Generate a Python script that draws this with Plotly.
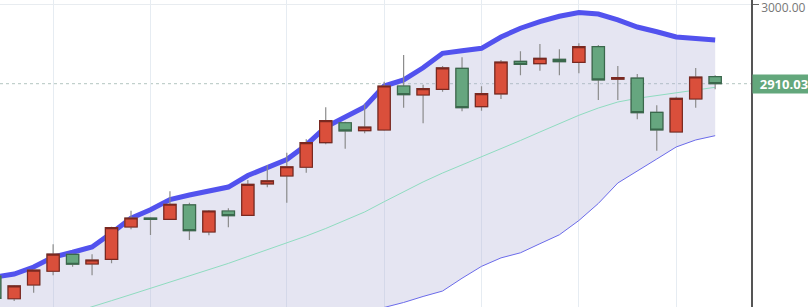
import plotly.graph_objects as go

# ---- data ----
idx = list(range(38))
open_ = [2690.2, 2664.2, 2679.9, 2695.6, 2715.0, 2703.9, 2709.3, 2746.2, 2756.5, 2755.0,
         2771.4, 2740.5, 2764.5, 2759.6, 2795.4, 2804.5, 2814.5, 2842.6, 2865.4, 2856.3,
         2857.1, 2907.4, 2897.1, 2903.6, 2927.6, 2883.7, 2898.3, 2935.6, 2932.9, 2937.9,
         2934.5, 2952.3, 2915.1, 2916.5, 2877.3, 2854.8, 2892.5, 2918.0]
high_ = [2692.5, 2679.9, 2697.6, 2726.4, 2715.9, 2715.0, 2746.6, 2764.8, 2757.3, 2787.0,
         2774.0, 2765.6, 2767.6, 2799.9, 2817.1, 2831.1, 2846.5, 2883.1, 2866.6, 2886.5,
         2912.3, 2942.8, 2908.9, 2930.3, 2940.2, 2907.1, 2937.1, 2947.1, 2955.4, 2949.4,
         2956.2, 2954.3, 2930.3, 2921.1, 2885.3, 2895.2, 2928.0, 2919.6]
low_ = [2660.5, 2661.6, 2671.1, 2691.0, 2700.8, 2691.0, 2704.7, 2743.6, 2737.1, 2754.2,
        2731.3, 2736.7, 2745.9, 2759.4, 2791.6, 2774.0, 2808.3, 2840.8, 2835.7, 2853.3,
        2856.3, 2882.6, 2864.8, 2900.9, 2878.5, 2879.2, 2892.5, 2919.6, 2924.9, 2919.6,
        2921.9, 2891.4, 2891.4, 2869.3, 2833.4, 2854.2, 2882.6, 2903.6]
close_ = [2664.7, 2678.8, 2697.0, 2715.3, 2703.6, 2708.5, 2745.4, 2756.5, 2755.0, 2772.2,
          2742.0, 2764.5, 2759.1, 2795.0, 2799.1, 2815.1, 2842.6, 2867.7, 2856.0, 2860.5,
          2907.4, 2897.5, 2904.3, 2928.0, 2882.6, 2898.6, 2934.8, 2932.2, 2939.1, 2935.2,
          2952.3, 2914.3, 2916.9, 2876.9, 2857.1, 2893.3, 2917.7, 2910.03]
upper = [2689.0, 2692.5, 2700.5, 2711.9, 2717.3, 2723.3, 2739.4, 2756.2, 2766.0, 2777.6,
         2782.8, 2786.8, 2791.9, 2805.1, 2814.8, 2823.4, 2840.0, 2860.5, 2872.0, 2883.4,
         2907.4, 2914.3, 2928.2, 2944.8, 2947.8, 2950.5, 2963.4, 2973.4, 2981.1, 2987.1,
         2991.4, 2989.7, 2982.9, 2974.8, 2969.4, 2963.4, 2961.7, 2960.0]
middle = [2620.5, 2627.3, 2634.2, 2641.0, 2648.2, 2655.3, 2662.0, 2669.0, 2676.1, 2683.3,
          2690.2, 2697.1, 2704.6, 2712.5, 2720.3, 2727.3, 2735.9, 2744.5, 2753.6, 2763.4,
          2775.1, 2786.6, 2797.7, 2807.9, 2817.1, 2826.2, 2835.4, 2845.1, 2854.8, 2864.5,
          2873.9, 2882.2, 2889.1, 2893.3, 2896.3, 2899.2, 2902.5, 2905.9]
lower = [2551.9, 2562.2, 2567.9, 2570.2, 2579.3, 2587.3, 2585.0, 2581.9, 2586.2, 2589.0,
         2597.6, 2607.3, 2617.3, 2619.9, 2625.7, 2631.3, 2631.9, 2628.5, 2635.3, 2643.3,
         2654.2, 2659.9, 2666.8, 2673.0, 2687.6, 2701.2, 2710.9, 2716.7, 2727.1, 2737.3,
         2753.6, 2773.1, 2796.5, 2809.7, 2823.9, 2837.7, 2845.7, 2850.6]
last_price = 2910.03
last_label = "2910.030"
grid_idx = [3, 8, 15, 20, 25, 30, 35]
y_ticks = [3000]
y_tick_text = ["3000.00"]

body_hi = [max(o, c) for o, c in zip(open_, close_)]
body_lo = [min(o, c) for o, c in zip(open_, close_)]

X_RANGE = [0.272, 38.84]
Y_RANGE = [2654.75, 3005.7]

RED_FILL = "#da4f3b"
RED_LINE = "#7a2820"
GREEN_FILL = "#66a67f"
GREEN_LINE = "#3a684c"

fig = go.Figure()
fig.add_trace(go.Scatter(x=idx, y=lower, mode="lines",
                         line=dict(color="#6b6bea", width=1), hoverinfo="skip"))
fig.add_trace(go.Scatter(x=idx, y=upper, mode="lines", fill="tonexty",
                         fillcolor="rgba(175,175,215,0.32)",
                         line=dict(color="#5252ee", width=5), hoverinfo="skip"))
fig.add_trace(go.Scatter(x=idx, y=middle, mode="lines",
                         line=dict(color="#8fdcc0", width=1), hoverinfo="skip"))
# wicks (on an overlaid subplot so candles sit above the bands)
fig.add_trace(go.Candlestick(
    x=idx, open=open_, high=high_, low=low_, close=close_, xaxis="x2", yaxis="y2",
    increasing=dict(line=dict(color="#8c8c8c", width=1.2), fillcolor="rgba(0,0,0,0)"),
    decreasing=dict(line=dict(color="#8c8c8c", width=1.2), fillcolor="rgba(0,0,0,0)"),
    whiskerwidth=0))
# bodies
fig.add_trace(go.Candlestick(
    x=idx, open=open_, high=body_hi, low=body_lo, close=close_, xaxis="x2", yaxis="y2",
    increasing=dict(line=dict(color=RED_LINE, width=1.2), fillcolor=RED_FILL),
    decreasing=dict(line=dict(color=GREEN_LINE, width=1.2), fillcolor=GREEN_FILL),
    whiskerwidth=0))

fig.add_shape(type="line", xref="paper", x0=0, x1=1, yref="y", y0=last_price, y1=last_price,
              line=dict(color="#b3c6c0", width=1, dash="dot"), layer="below")
fig.add_annotation(x=1, xref="paper", xanchor="left", xshift=1, y=last_price, yref="y",
                   text="<b>&nbsp;&nbsp;" + last_label + "</b>", showarrow=False,
                   bgcolor="#63a77c", font=dict(color="white", size=13, family="Open Sans"),
                   borderpad=0)

fig.update_layout(
    width=808, height=307, margin=dict(l=0, r=57, t=0, b=0, autoexpand=False),
    showlegend=False, plot_bgcolor="white", paper_bgcolor="white",
    boxgap=0.37, boxgroupgap=0,
    xaxis=dict(range=X_RANGE, tickvals=grid_idx, showticklabels=False, automargin=False,
               showgrid=True, gridcolor="#e6ecf2", gridwidth=1, zeroline=False,
               showline=False, ticks="", rangeslider=dict(visible=False)),
    xaxis2=dict(range=X_RANGE, overlaying="x", visible=False, showgrid=False,
                automargin=False, rangeslider=dict(visible=False)),
    yaxis=dict(side="right", range=Y_RANGE, tickvals=y_ticks, ticktext=y_tick_text,
               automargin=False,
               showgrid=True, gridcolor="#e8ecf0", zeroline=False, showline=True,
               linecolor="#555", linewidth=1.5, ticks="outside", ticklen=6, tickcolor="#666",
               ticklabeloverflow="allow", ticklabelshift=3,
               tickfont=dict(color="#777", size=12, family="Open Sans")),
    yaxis2=dict(range=Y_RANGE, overlaying="y", visible=False, showgrid=False,
                automargin=False),
)

fig.write_html("out.html")
